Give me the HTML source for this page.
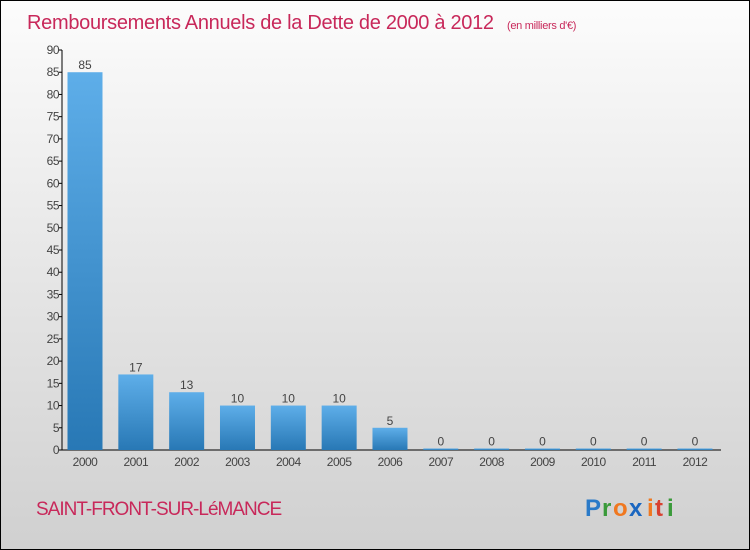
<!DOCTYPE html>
<html><head><meta charset="utf-8"><style>
body{margin:0}
#c{width:748px;height:548px;border:1px solid #000;background:linear-gradient(#fcfcfc,#d0d0d0);position:relative;overflow:hidden;font-family:"Liberation Sans",sans-serif}
</style></head><body>
<div id="c">
<svg id="s" width="748" height="548" style="position:absolute;left:0;top:0">
<defs><linearGradient id="g" x1="0" y1="0" x2="0" y2="1"><stop offset="0" stop-color="#5eaee9"/><stop offset="1" stop-color="#2878b5"/></linearGradient></defs>
<text x="26" y="28" font-size="20" fill="#c8285a" letter-spacing="-0.3">Remboursements Annuels de la Dette de 2000 à 2012 <tspan font-size="11" dx="8">(en milliers d'€)</tspan></text>
<text x="35" y="514" font-size="19" fill="#c8285a" letter-spacing="-1">SAINT-FRONT-SUR-LéMANCE</text>
<g font-size="24" font-weight="bold">
<text x="584" y="515" fill="#2a7ac8">P</text><text x="601" y="515" fill="#3a9a3a">r</text><text x="612" y="515" fill="#f07820">o</text><text x="628" y="515" fill="#1a66c0">x</text><text x="646" y="515" fill="#f07820">i</text><text x="654" y="515" fill="#d84030">t</text><text x="666" y="515" fill="#3a9a3a">i</text>
</g>
</svg>
</div>
<script>
const years=["2000","2001","2002","2003","2004","2005","2006","2007","2008","2009","2010","2011","2012"];
const values=[85,17,13,10,10,10,5,0,0,0,0,0,0];
const yTicks=[0,5,10,15,20,25,30,35,40,45,50,55,60,65,70,75,80,85,90];
const s=document.getElementById('s'),NS='http://www.w3.org/2000/svg';
const y0=449,yTop=49,yMax=90,xAx=61;
const y=v=>y0-(y0-yTop)*v/yMax;
const x=i=>84+i*50.83;
function el(t,a,txt){const e=document.createElementNS(NS,t);for(const k in a)e.setAttribute(k,a[k]);if(txt!=null)e.textContent=txt;s.appendChild(e);return e;}
let ax=el('line',{x1:xAx,y1:yTop,x2:xAx,y2:y0,stroke:'#000'});


let bx=el('line',{x1:xAx,y1:y0,x2:720,y2:y0,stroke:'#000'});


yTicks.forEach(v=>{
 let t=el('line',{x1:xAx-3,y1:y(v),x2:xAx,y2:y(v),stroke:'#000'});
 
 
 let l=el('text',{x:xAx-3,y:y(v)+4,'font-size':12,fill:'#444','text-anchor':'end','letter-spacing':'-0.5'},v);
 
 
});
years.forEach((yr,i)=>{
 const v=values[i],h=Math.max(y0-y(v),1.5);
 let b=el('rect',{x:x(i)-17.5,y:y0-h,width:35,height:h,fill:'url(#g)'});
 
 
 let vl=el('text',{x:x(i),y:y0-h-3,'font-size':12,fill:'#444','text-anchor':'middle'},v);
 
 
 let xl=el('text',{x:x(i),y:y0+16,'font-size':12,fill:'#444','text-anchor':'middle','letter-spacing':'-0.5'},yr);
 
 
});
</script>
</body></html>
